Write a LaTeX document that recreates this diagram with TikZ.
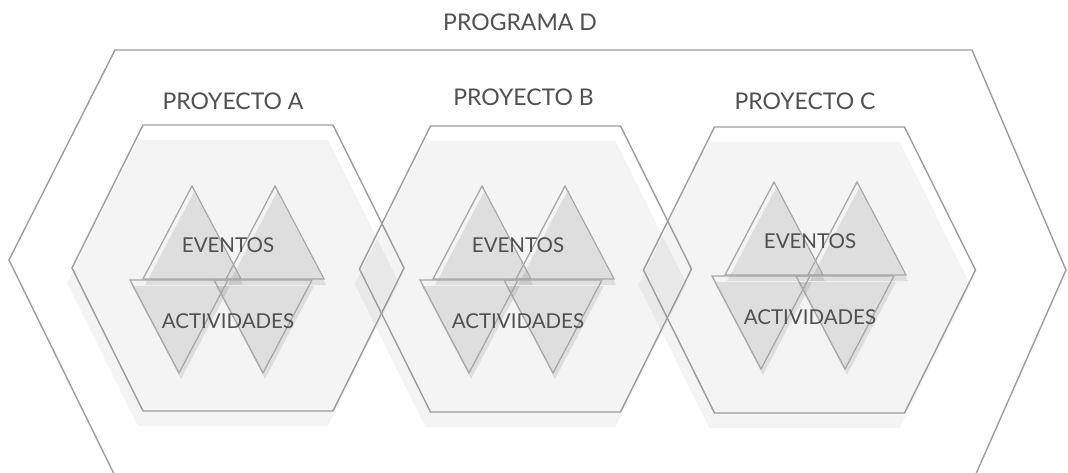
\documentclass[tikz,border=0pt]{standalone}
\usepackage{fontspec}
\setmainfont{Lato}
\definecolor{linegray}{HTML}{9C9C9C}
\definecolor{trigray}{HTML}{A8A8A8}
\definecolor{txtgray}{HTML}{505050}
\tikzset{
  hexline/.style={draw=linegray, line width=1.4pt, line join=miter},
  hexshade/.style={fill=black, fill opacity=0.045},
  triline/.style={draw=trigray, line width=1.3pt, line join=miter},
  trishade/.style={fill=black, fill opacity=0.09},
  title/.style={text=txtgray, font=\fontsize{23}{23}\selectfont, inner sep=0pt, anchor=center},
  label/.style={text=txtgray, font=\fontsize{20.5}{20.5}\selectfont, inner sep=0pt, anchor=center},
}
\newcommand{\hexpath}[2]{(#1-95,#2-143) -- (#1+95,#2-143) -- (#1+166,#2) -- (#1+95,#2+143) -- (#1-95,#2+143) -- (#1-166,#2) -- cycle}
\newcommand{\trigroup}[3]{%
  \begin{scope}[shift={(#1,#2)}]
    \begin{scope}[shift={(2,6)}]
      \fill[trishade] (143,279) -- (241,279) -- (192,186) -- cycle;
      \fill[trishade] (226,279) -- (324,279) -- (275,186) -- cycle;
      \fill[trishade] (130,280) -- (228,280) -- (179,373) -- cycle;
      \fill[trishade] (214,280) -- (312,280) -- (263,373) -- cycle;
    \end{scope}
    \draw[triline] (143,279) -- (241,279) -- (192,186) -- cycle;
    \draw[triline] (226,279) -- (324,279) -- (275,186) -- cycle;
    \draw[triline] (130,280) -- (228,280) -- (179,373) -- cycle;
    \draw[triline] (214,280) -- (312,280) -- (263,373) -- cycle;
    \node[label] (ev#3) at (228,245.5) {EVENTOS};
    \node[label] (ac#3) at (228,321) {ACTIVIDADES};
  \end{scope}}
\begin{document}
\begin{tikzpicture}[x=1pt,y=-1pt]
\useasboundingbox (0,0) rectangle (1068,473);
\begin{scope}
\clip (0,0) rectangle (1068,473);
% outer programme hexagon
\draw[hexline] (115,50) -- (972,50) -- (1066,270) -- (975,476) -- (115,476) -- (9,260) -- cycle;
% project hexagon shades
\fill[hexshade] \hexpath{233}{283};
\fill[hexshade] \hexpath{520.5}{284};
\fill[hexshade] \hexpath{804.5}{285};
% project hexagon outlines
\draw[hexline] \hexpath{238}{268};
\draw[hexline] \hexpath{525.5}{269};
\draw[hexline] \hexpath{809.5}{270};
\end{scope}
% triangles and labels
\trigroup{0}{0}{A}
\trigroup{290}{0}{B}
\trigroup{582}{-4}{C}
% titles
\node[title] (prog) at (520,22) {PROGRAMA D};
\node[title] (pa) at (233,101.5) {PROYECTO A};
\node[title] (pb) at (523.5,97.5) {PROYECTO B};
\node[title] (pc) at (805,101.5) {PROYECTO C};
\end{tikzpicture}
\end{document}
